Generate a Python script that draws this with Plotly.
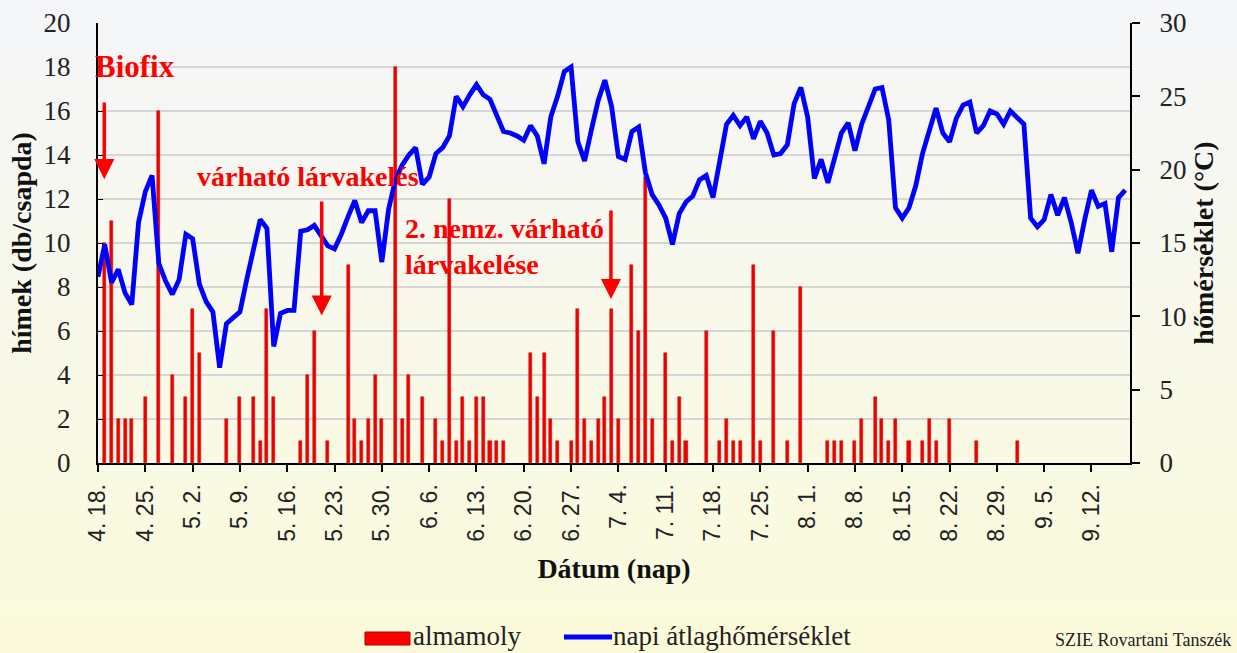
import datetime as dt
import plotly.graph_objects as go

# ---------------- data ----------------
start = dt.date(2000, 4, 18)
n_days = 153
dates = [f"{(start + dt.timedelta(days=i)).month}. {(start + dt.timedelta(days=i)).day}." for i in range(n_days)]

tick_labels = ["4. 18.", "4. 25.", "5. 2.", "5. 9.", "5. 16.", "5. 23.", "5. 30.", "6. 6.",
               "6. 13.", "6. 20.", "6. 27.", "7. 4.", "7. 11.", "7. 18.", "7. 25.", "8. 1.",
               "8. 8.", "8. 15.", "8. 22.", "8. 29.", "9. 5.", "9. 12."]

# almamoly catches: day index -> count
moth_days = [1, 2, 3, 4, 5, 7, 9, 11, 13, 14, 15, 19, 21, 23, 24, 25, 26, 30, 31, 32, 34, 37, 38, 39,
             40, 41, 42, 44, 45, 46, 48, 50, 51, 52, 53, 54, 55, 56, 57, 58, 59, 60, 64, 65, 66, 67,
             68, 70, 71, 72, 73, 74, 75, 76, 77, 79, 80, 81, 82, 84, 85, 86, 87, 90, 92, 93, 94, 95,
             97, 98, 100, 102, 104, 108, 109, 110, 112, 113, 115, 116, 117, 118, 120, 122, 123, 124,
             126, 130, 136]
moth_counts = [10, 11, 2, 2, 2, 3, 16, 4, 3, 7, 5, 2, 3, 3, 1, 7, 3, 1, 4, 6, 1, 9, 2, 1,
               2, 4, 2, 18, 2, 4, 3, 2, 1, 12, 1, 3, 1, 3, 3, 1, 1, 1, 5, 3, 5, 2,
               1, 1, 7, 2, 1, 2, 3, 7, 2, 9, 6, 13, 2, 5, 1, 3, 1, 6, 1, 2, 1, 1,
               9, 1, 6, 1, 8, 1, 1, 1, 1, 2, 3, 2, 1, 2, 1, 1, 2, 1,
               2, 1, 1]

temperature = [12.7, 14.9, 12.3, 13.2, 11.6, 10.8, 16.4, 18.5, 19.6, 13.6,
               12.4, 11.5, 12.5, 15.6, 15.3, 12.2, 11.0, 10.3, 6.5, 9.5,
               9.9, 10.3, 12.5, 14.5, 16.6, 16.0, 7.95, 10.2, 10.4, 10.4,
               15.8, 15.9, 16.2, 15.5, 14.8, 14.6, 15.6, 16.8, 17.9, 16.4,
               17.2, 17.2, 13.7, 17.3, 19.3, 20.3, 21.0, 21.5, 19.0, 19.5,
               21.1, 21.5, 22.3, 25.0, 24.3, 25.1, 25.8, 25.1, 24.8, 23.7,
               22.6, 22.5, 22.3, 22.0, 23.0, 22.3, 20.4, 23.6, 25.0, 26.7,
               27.0, 21.9, 20.6, 22.7, 24.7, 26.1, 24.3, 20.9, 20.7, 22.6,
               22.9, 19.8, 18.3, 17.6, 16.7, 14.9, 17.0, 17.8, 18.2, 19.3,
               19.6, 18.1, 20.6, 23.1, 23.7, 23.0, 23.6, 22.1, 23.3, 22.5,
               21.0, 21.1, 21.7, 24.5, 25.6, 23.6, 19.4, 20.7, 19.1, 20.7,
               22.5, 23.2, 21.3, 23.1, 24.4, 25.5, 25.6, 23.4, 17.4, 16.7,
               17.4, 18.9, 21.1, 22.6, 24.2, 22.5, 21.9, 23.5, 24.4, 24.6,
               22.5, 23.0, 24.0, 23.8, 23.1, 24.0, 23.5, 23.1, 16.7, 16.1,
               16.6, 18.3, 16.9, 18.1, 16.4, 14.3, 16.6, 18.6, 17.5, 17.7,
               14.4, 18.1, 18.6]

series_names = ["almamoly", "napi átlaghőmérséklet"]

moth_dates = [dates[i] for i in moth_days]

# ---------------- figure ----------------
SERIF = "Liberation Serif, Times New Roman, serif"
SANS = "Liberation Sans, Arial, sans-serif"
RED = "#FF0000"
BAR_RED = "#EE0000"
BLUE = "#0000FF"

W, H = 1237, 653
ml, mr, mt, mb = 98, 107, 23, 190
pw, ph = W - ml - mr, H - mt - mb


def px(xp):  # pixel x -> paper x
    return (xp - ml) / pw


def py(yp):  # pixel y -> paper y
    return (H - mb - yp) / ph


fig = go.Figure()
fig.add_trace(go.Bar(x=moth_dates, y=moth_counts, name=series_names[0], width=0.45,
                     marker=dict(color=BAR_RED, line=dict(color="#CC0000", width=0.5)),
                     yaxis="y", showlegend=False))
fig.add_trace(go.Scatter(x=dates, y=temperature, name=series_names[1], mode="lines",
                         line=dict(color=BLUE, width=4.8), yaxis="y2", showlegend=False))

# background gradient (light grey-white at top to pale yellow at bottom)
top_c = (245, 246, 249)
bot_c = (251, 251, 219)
nb = 50
shapes = []
for k in range(nb):
    y0p = H * k / nb
    y1p = H * (k + 1) / nb + 1
    f = (k + 0.5) / nb
    c = tuple(int(round(top_c[j] + (bot_c[j] - top_c[j]) * f)) for j in range(3))
    shapes.append(dict(type="rect", xref="paper", yref="paper", layer="below",
                       x0=px(-5), x1=px(W + 5), y0=py(y1p), y1=py(y0p),
                       fillcolor=f"rgb{c}", line=dict(width=0)))

# legend (drawn manually to match the wide swatches of the original)
shapes.append(dict(type="rect", xref="paper", yref="paper", x0=px(365), x1=px(410),
                   y0=py(645), y1=py(632), fillcolor=RED, line=dict(color="#B00000", width=1)))
shapes.append(dict(type="line", xref="paper", yref="paper", x0=px(564), x1=px(612),
                   y0=py(637), y1=py(637), line=dict(color=BLUE, width=5)))

arrow_common = dict(showarrow=True, arrowcolor=RED, arrowwidth=3.5, arrowhead=2,
                    arrowsize=1.15, text="", xref="x", yref="y", axref="x", ayref="y", standoff=0)
annotations = [
    dict(x=0.93, y=12.9, ax=0.93, ay=16.45, **arrow_common),
    dict(x=33.1, y=6.7, ax=33.1, ay=11.95, **arrow_common),
    dict(x=75.9, y=7.45, ax=75.9, ay=11.55, **arrow_common),
    dict(x=px(93), y=py(66), xref="paper", yref="paper", text="<b>Biofix</b>", showarrow=False,
         xanchor="left", yanchor="middle", font=dict(family=SERIF, size=31, color=RED)),
    dict(x=px(195), y=py(176), xref="paper", yref="paper", text="<b>várható lárvakelés</b>",
         showarrow=False, xanchor="left", yanchor="middle",
         font=dict(family=SERIF, size=28, color=RED)),
    dict(x=px(403), y=py(246), xref="paper", yref="paper",
         text="<b>2. nemz. várható<br>lárvakelése</b>",
         showarrow=False, xanchor="left", yanchor="middle", align="left",
         font=dict(family=SERIF, size=28, color=RED)),
    dict(x=px(411), y=py(636), xref="paper", yref="paper", text=series_names[0], showarrow=False,
         xanchor="left", yanchor="middle", font=dict(family=SERIF, size=27, color="#222222")),
    dict(x=px(611), y=py(636), xref="paper", yref="paper", text=series_names[1], showarrow=False,
         xanchor="left", yanchor="middle", font=dict(family=SERIF, size=27, color="#222222")),
    dict(x=px(1233), y=py(640), xref="paper", yref="paper",
         text="SZIE Rovartani Tanszék", showarrow=False, xanchor="right", yanchor="middle",
         font=dict(family=SERIF, size=18, color="#222222")),
]

fig.update_layout(
    width=W, height=H,
    margin=dict(l=ml, r=mr, t=mt, b=mb, pad=0, autoexpand=False),
    paper_bgcolor="rgb(248,248,236)",
    plot_bgcolor="rgba(0,0,0,0)",
    shapes=shapes,
    annotations=annotations,
    bargap=0,
    showlegend=False,
    xaxis=dict(type="category", categoryorder="array", categoryarray=dates, automargin=False,
               range=[0, 152.7], tickmode="array", tickvals=tick_labels, ticktext=tick_labels,
               tickangle=-90, tickfont=dict(family=SANS, size=23, color="#222222"),
               ticks="outside", ticklen=7, tickwidth=2, tickcolor="black", ticklabelstandoff=3,
               showline=True, linecolor="black", linewidth=2, showgrid=False,
               title=dict(text="<b>Dátum (nap)</b>", font=dict(family=SERIF, size=28, color="#111111"),
                          standoff=18)),
    yaxis=dict(range=[0, 20], dtick=2, showgrid=True, gridcolor="#D6D6D6", gridwidth=2,
               showline=True, linecolor="black", linewidth=2, zeroline=False, automargin=False,
               ticks="inside", ticklen=5, tickcolor="black",
               tickfont=dict(family=SERIF, size=27, color="#222222"), ticklabelstandoff=20,
               title=dict(text="<b>hímek (db/csapda)</b>", font=dict(family=SERIF, size=28, color="#111111"),
                          standoff=4)),
    yaxis2=dict(range=[0, 30], dtick=5, overlaying="y", side="right", showgrid=False, automargin=False,
                showline=True, linecolor="black", linewidth=2, zeroline=False,
                ticks="outside", ticklen=8, tickwidth=2, tickcolor="black",
                tickfont=dict(family=SERIF, size=27, color="#222222"), ticklabelstandoff=14,
                title=dict(text="<b>hőmérséklet (°C)</b>", font=dict(family=SERIF, size=28, color="#111111"),
                           standoff=8)),
)

fig.write_html("out.html", config={"displayModeBar": False},
               post_script="document.body.style.margin='0';document.body.style.overflow='hidden';")
